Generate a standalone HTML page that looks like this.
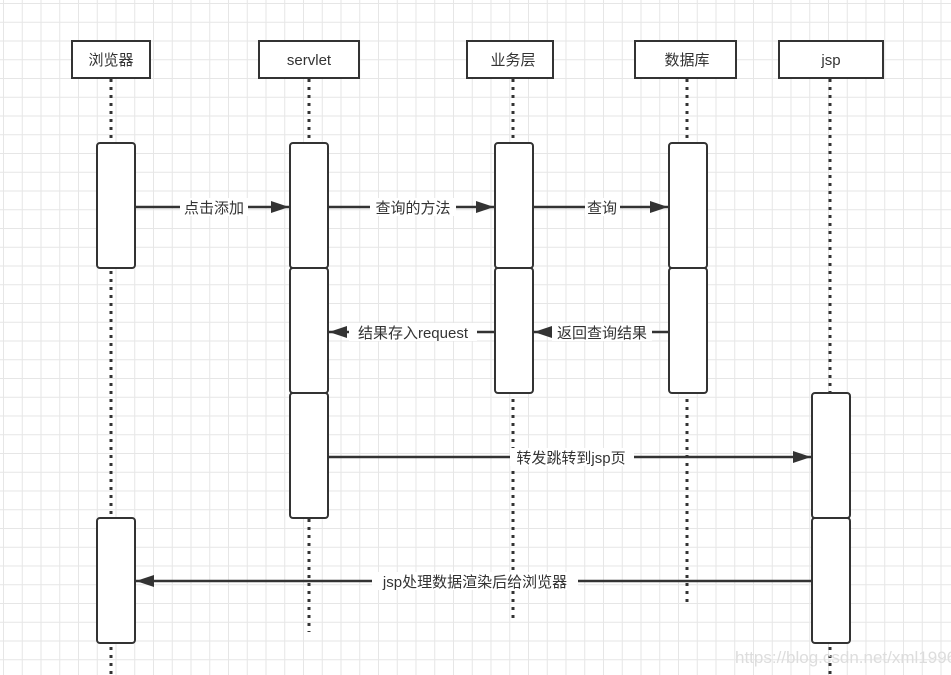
<!DOCTYPE html>
<html><head><meta charset="utf-8"><style>
body{margin:0;width:951px;height:675px;overflow:hidden;background:#fff;
background-image:linear-gradient(#e6e6e6 1px,transparent 1px),linear-gradient(90deg,#e6e6e6 1px,transparent 1px);
background-size:18.75px 18.75px;background-position:3px 3px;}
</style></head><body>
<svg width="951" height="675" style="position:absolute;left:0;top:0" font-family="Liberation Sans, Noto Sans CJK SC, sans-serif" font-size="15" fill="#333">
<defs><marker id="a" markerWidth="10" markerHeight="10" refX="9" refY="5" orient="auto" markerUnits="userSpaceOnUse"><path d="M0,0 L18,5 L0,10 Z" transform="scale(0.5,1)" fill="#333"/></marker>
<marker id="b" markerWidth="18" markerHeight="12" refX="18" refY="6" orient="auto" markerUnits="userSpaceOnUse"><path d="M0,0 L18,6 L0,12 Z" fill="#333"/></marker></defs>
<g stroke="#333" stroke-width="3" stroke-dasharray="3,5">
<line x1="111" y1="79" x2="111" y2="675"/><line x1="309" y1="79" x2="309" y2="632"/>
<line x1="513" y1="79" x2="513" y2="620"/><line x1="687" y1="79" x2="687" y2="607"/>
<line x1="830" y1="79" x2="830" y2="675"/></g>
<g fill="#fff" stroke="#333" stroke-width="2">
<rect x="72" y="41" width="78" height="37"/><rect x="259" y="41" width="100" height="37"/>
<rect x="467" y="41" width="86" height="37"/><rect x="635" y="41" width="101" height="37"/>
<rect x="779" y="41" width="104" height="37"/>
<rect x="97" y="143" width="38" height="125" rx="3"/><rect x="97" y="518" width="38" height="125" rx="3"/>
<rect x="290" y="143" width="38" height="125" rx="3"/><rect x="290" y="268" width="38" height="125" rx="3"/><rect x="290" y="393" width="38" height="125" rx="3"/>
<rect x="495" y="143" width="38" height="125" rx="3"/><rect x="495" y="268" width="38" height="125" rx="3"/>
<rect x="669" y="143" width="38" height="125" rx="3"/><rect x="669" y="268" width="38" height="125" rx="3"/>
<rect x="812" y="393" width="38" height="125" rx="3"/><rect x="812" y="518" width="38" height="125" rx="3"/>
</g>
<g text-anchor="middle"><text x="111" y="65">浏览器</text><text x="309" y="65">servlet</text><text x="513" y="65">业务层</text><text x="687" y="65">数据库</text><text x="831" y="65">jsp</text></g>
<g stroke="#333" stroke-width="2.5" marker-end="url(#b)">
<line x1="135" y1="207" x2="289" y2="207"/><line x1="328" y1="207" x2="494" y2="207"/>
<line x1="533" y1="207" x2="668" y2="207"/><line x1="669" y1="332" x2="534" y2="332"/>
<line x1="495" y1="332" x2="329" y2="332"/><line x1="328" y1="457" x2="811" y2="457"/>
<line x1="812" y1="581" x2="136" y2="581"/></g>
<g text-anchor="middle"><rect x="180" y="198" width="68" height="18" fill="#fff"/><text x="214" y="213">点击添加</text>
<rect x="370" y="198" width="86" height="18" fill="#fff"/><text x="413" y="213">查询的方法</text>
<rect x="585" y="198" width="35" height="18" fill="#fff"/><text x="602" y="213">查询</text>
<rect x="552" y="323" width="100" height="18" fill="#fff"/><text x="602" y="338">返回查询结果</text>
<rect x="349" y="323" width="128" height="18" fill="#fff"/><text x="413" y="338">结果存入request</text>
<rect x="510" y="448" width="124" height="18" fill="#fff"/><text x="571" y="463">转发跳转到jsp页</text>
<rect x="372" y="572" width="206" height="18" fill="#fff"/><text x="475" y="587">jsp处理数据渲染后给浏览器</text></g>
<text x="735" y="663" fill="#ddd" font-size="17">https://blog.csdn.net/xml1996</text>
</svg></body></html>
